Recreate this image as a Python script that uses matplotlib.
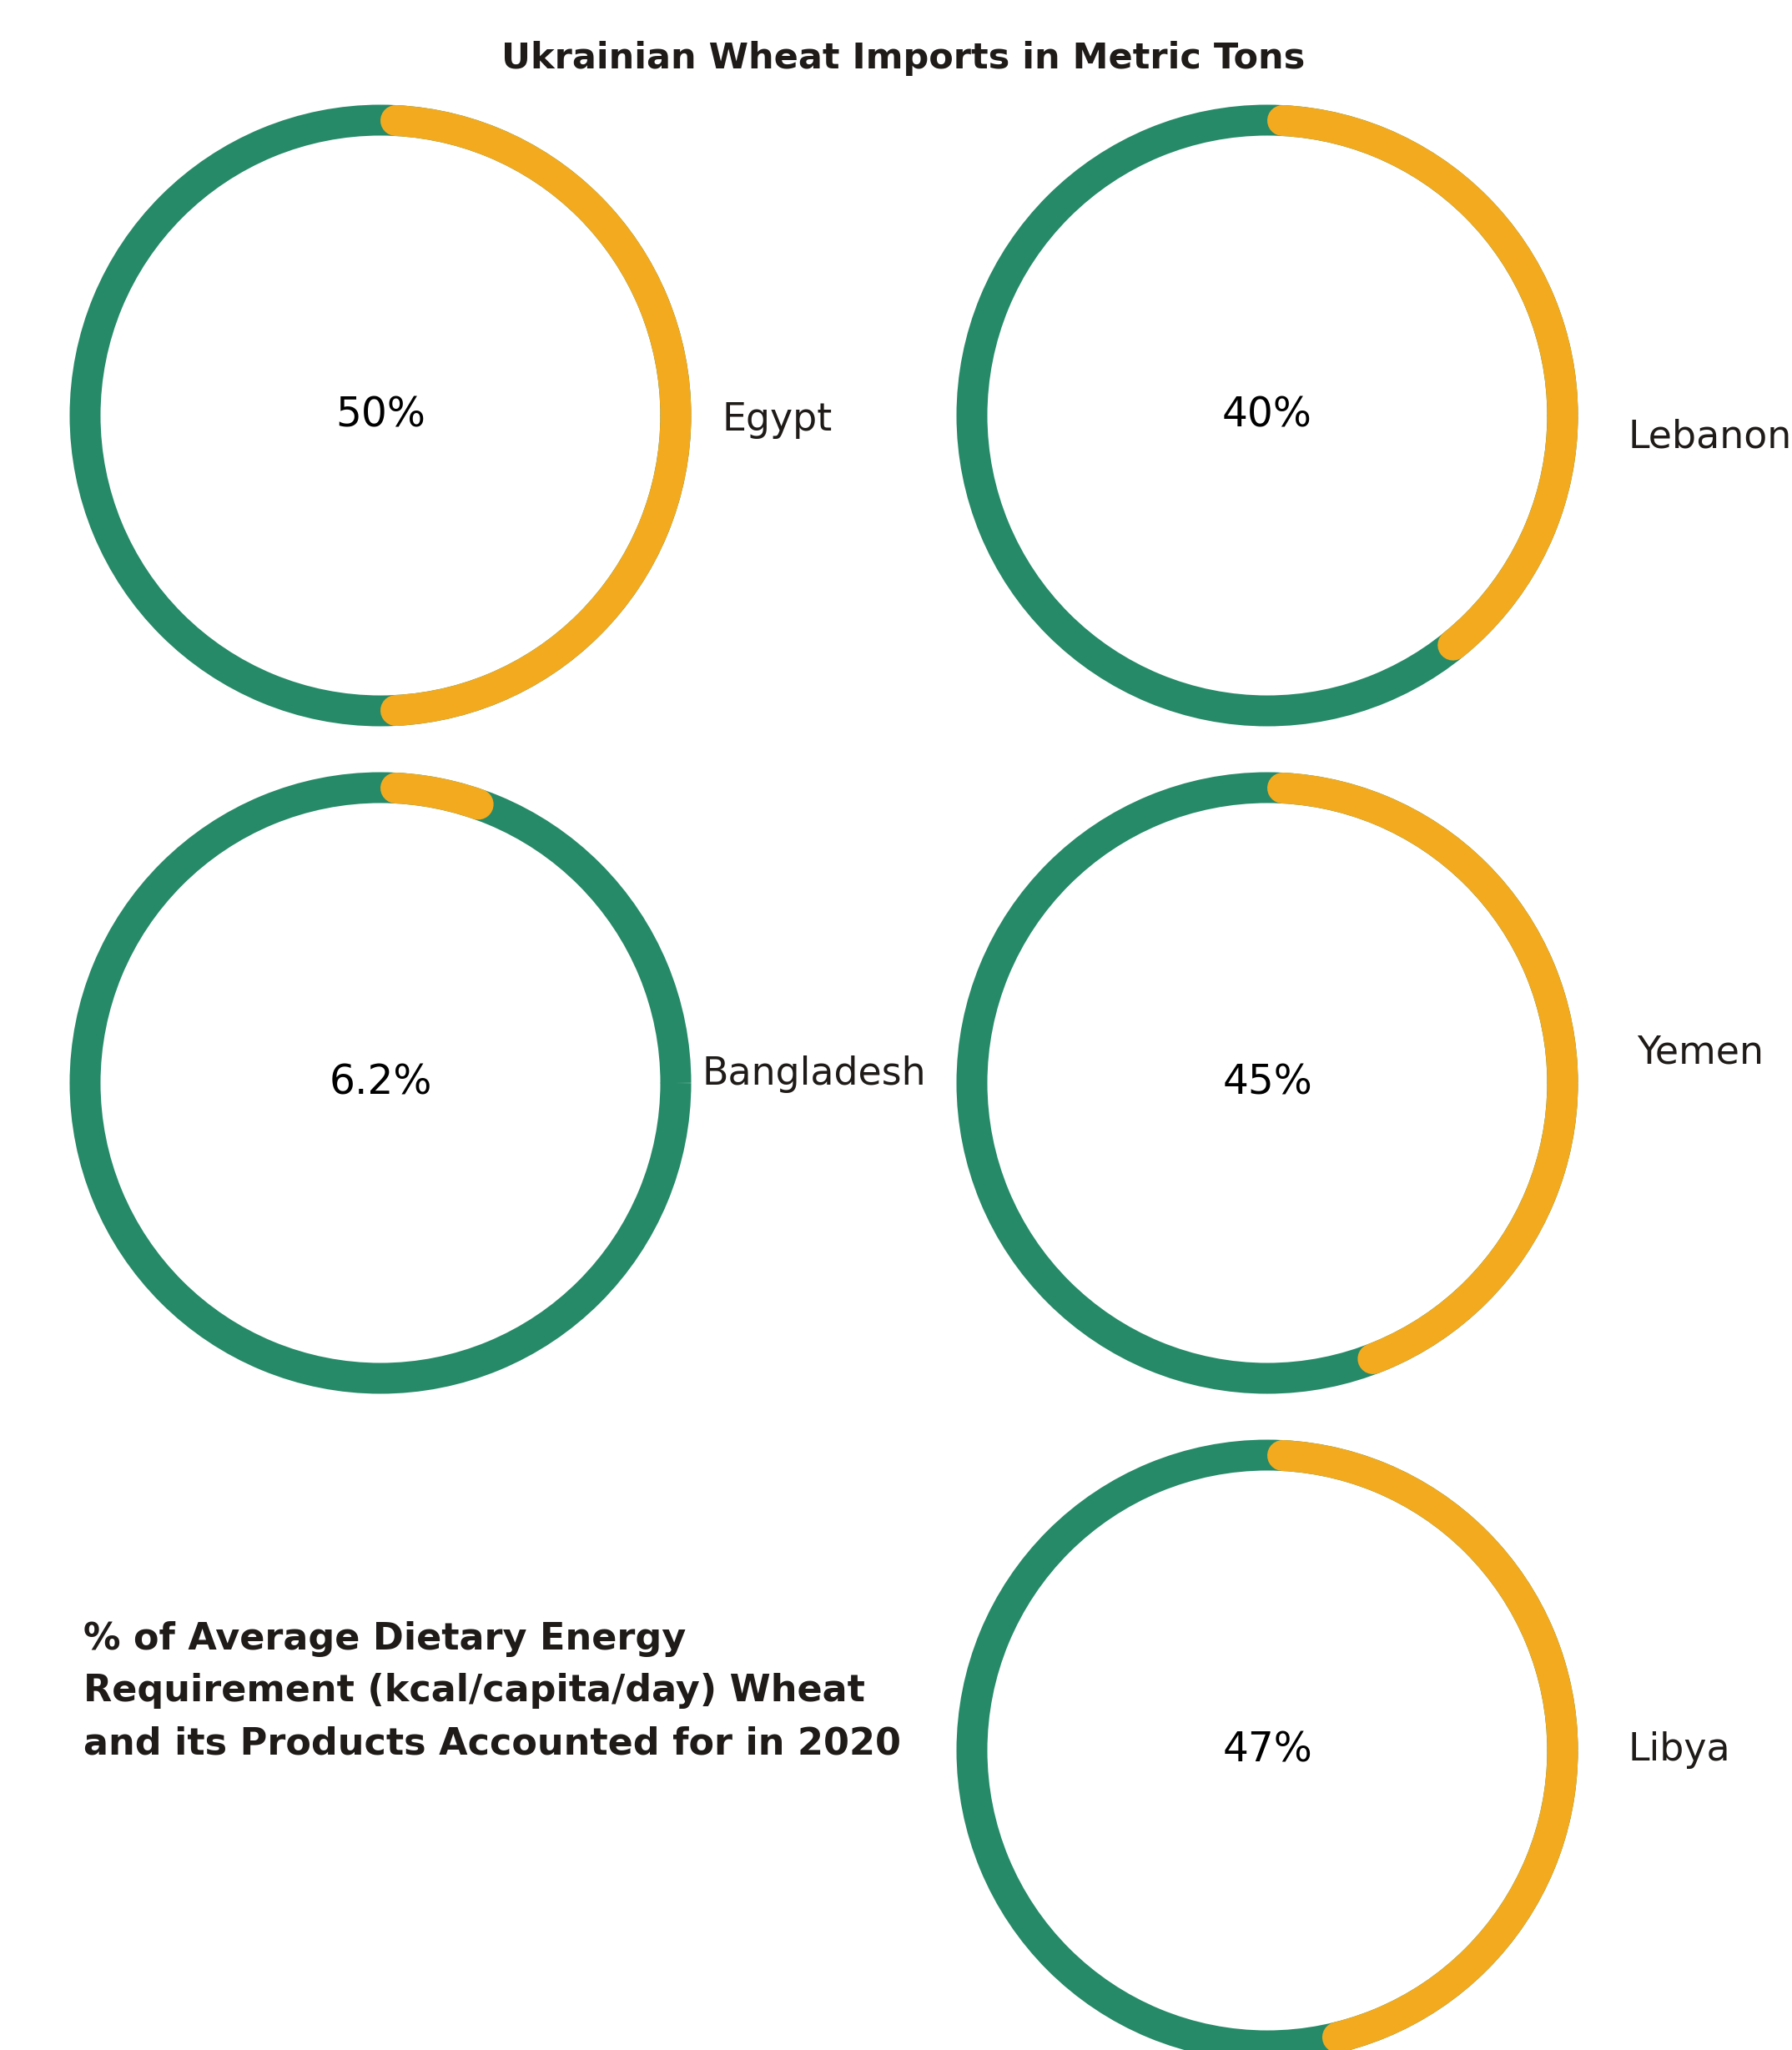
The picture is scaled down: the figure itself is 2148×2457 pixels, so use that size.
import matplotlib
matplotlib.use("Agg")
import matplotlib.pyplot as plt
from matplotlib.patches import Arc
import numpy as np

# data
countries = ["Egypt", "Lebanon", "Bangladesh", "Yemen", "Libya"]
shares = [50, 40, 6.2, 45, 47]
share_labels = ["50%", "40%", "6.2%", "45%", "47%"]

title = "Ukrainian Wheat Imports in Metric Tons"
note = ("% of Average Dietary Energy\n"
        "Requirement (kcal/capita/day) Wheat\n"
        "and its Products Accounted for in 2020")

GREEN = "#268A69"
ORANGE = "#F4AA1E"
TEXT = "#1E1B18"

W, H = 2148, 2457
plt.rcParams['font.family'] = ['DejaVu Sans']

fig = plt.figure(figsize=(W / 100, H / 100), dpi=100)
ax = fig.add_axes([0, 0, 1, 1])
ax.set_xlim(0, W)
ax.set_ylim(H, 0)
ax.set_aspect('equal')
ax.axis('off')

# layout in pixel coords (y down)
centers = [(456, 498), (1519, 498), (456, 1298), (1519, 1298), (1519, 2098)]
label_pos = [(866, 504), (1952, 524), (841, 1288), (1962, 1262), (1952, 2097)]
r = 354
width_px = 37
lw = width_px * 72 / 100
# round caps stick out by half the width; pull the ends in so the tips sit on the value
inset = np.degrees(width_px / 2 / r)

for (cx, cy), p, lab, pl, (lx, ly) in zip(centers, shares, countries, share_labels, label_pos):
    ring = Arc((cx, cy), 2 * r, 2 * r, theta1=0, theta2=360, color=GREEN, lw=lw)
    ax.add_patch(ring)
    # y axis is inverted, so 270 is the top and angles run clockwise
    part = Arc((cx, cy), 2 * r, 2 * r, theta1=270 + inset,
               theta2=270 + 360 * p / 100 - inset, color=ORANGE, lw=lw)
    part.set_capstyle('round')
    ax.add_patch(part)
    ax.text(cx, cy, pl, ha='center', va='center', fontsize=35, color='black')
    ax.text(lx, ly, lab, ha='left', va='center', fontsize=33, color=TEXT)

ax.text(1083, 70, title, ha='center', va='center', fontsize=31,
        fontweight='bold', color=TEXT)
ax.text(100, 2027, note, ha='left', va='center', fontsize=32,
        fontweight='bold', color=TEXT, linespacing=1.58)

fig.savefig("out.png", dpi=100, facecolor='white')
